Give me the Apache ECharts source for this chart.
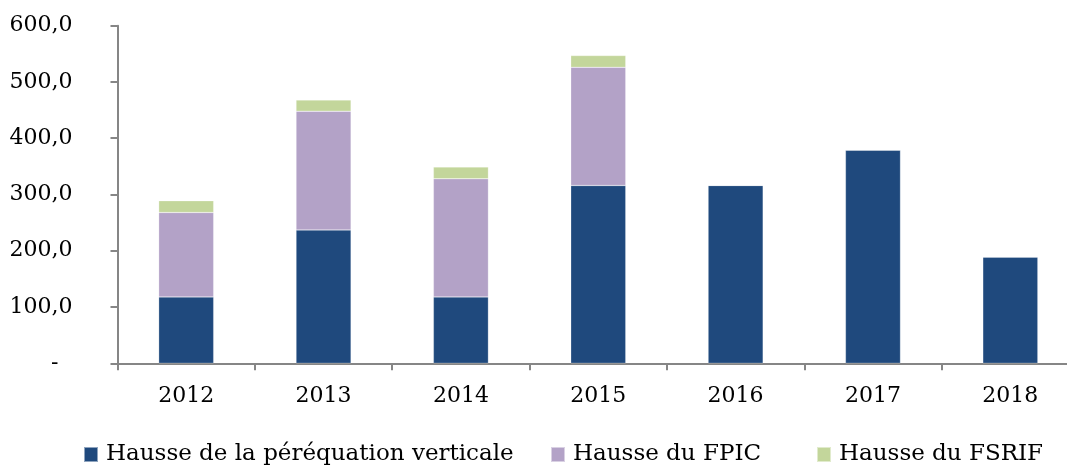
<!DOCTYPE html>
<html><head><meta charset="utf-8">
<script src="https://cdn.jsdelivr.net/npm/echarts@6/dist/echarts.min.js"></script>
<style>html,body{margin:0;padding:0;background:#fff;overflow:hidden;width:1067px;height:468px}#c{width:1079px;height:468px}</style>
</head><body><div id="c"></div>
<script>
const categories = ['2012','2013','2014','2015','2016','2017','2018'];
const seriesNames = ['Hausse de la péréquation verticale','Hausse du FPIC','Hausse du FSRIF'];
const verticale = [118, 237, 118, 316, 316, 379, 189];
const fpic = [150, 211, 210, 210, 0, 0, 0];
const fsrif = [21, 20, 21, 21, 0, 0, 0];
const yTicks = [0, 100, 200, 300, 400, 500, 600];

const font = '"DejaVu Serif", "Liberation Serif", serif';
const colors = ['#1F497D', '#B3A2C7', '#C3D69B'];
const legendLeft = [78, 545, 811];
const chart = echarts.init(document.getElementById('c'), null, {renderer:'canvas'});
function mk(name, data, color){
  return {name, type:'bar', stack:'s', data, barWidth:55,
    itemStyle:{color, borderColor:'rgba(255,255,255,0.5)', borderWidth:0.5},
    emphasis:{disabled:true}};
}
chart.setOption({
  animation:false,
  textStyle:{fontFamily:font},
  grid:{left:117.5, right:0, top:25.7, bottom:104.7, containLabel:false},
  legend: seriesNames.map((n,i)=>({left:legendLeft[i], top:438, itemWidth:14, itemHeight:15,
    icon:'rect', textStyle:{fontFamily:font, fontSize:23, color:'#000', padding:[0,0,0,3]},
    data:[n]})),
  xAxis:{type:'category', data:categories,
    axisLine:{lineStyle:{color:'#868686', width:2}},
    axisTick:{show:true, alignWithLabel:false, length:7, lineStyle:{color:'#868686', width:2}},
    axisLabel:{fontFamily:font, fontSize:22, color:'#000', margin:22}},
  yAxis:{type:'value', min:yTicks[0], max:yTicks[yTicks.length-1], interval:100,
    splitLine:{show:false},
    axisLine:{show:true, lineStyle:{color:'#868686', width:2}},
    axisTick:{show:true, length:7, lineStyle:{color:'#868686', width:2}},
    axisLabel:{fontFamily:font, fontSize:22, color:'#000', margin:45,
      formatter:function(v){ return v===0 ? '{d|-}' : v.toFixed(1).replace('.', ','); },
      rich:{d:{fontFamily:font, fontSize:22, color:'#000', padding:[0,14,0,0]}}}},
  series:[mk(seriesNames[0], verticale, colors[0]), mk(seriesNames[1], fpic, colors[1]), mk(seriesNames[2], fsrif, colors[2])]
});
</script></body></html>
